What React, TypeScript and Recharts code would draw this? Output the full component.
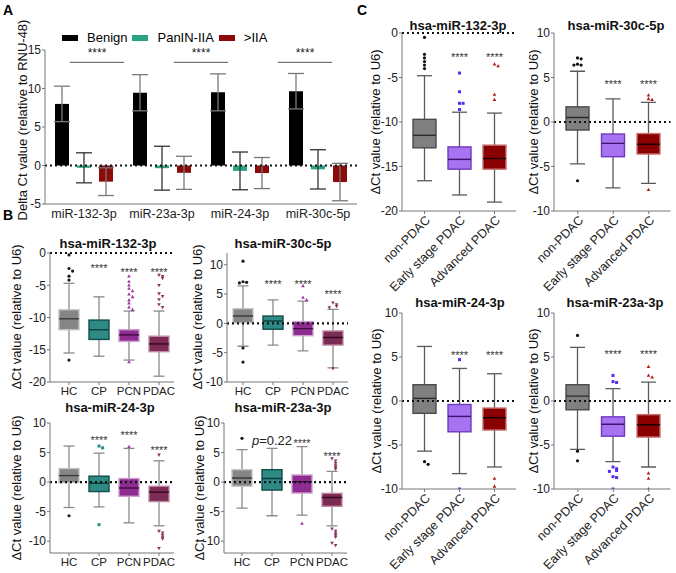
import React from "react";
import { Bar, ComposedChart, ErrorBar, ReferenceLine, XAxis, YAxis } from "recharts";

const FONT = "'Liberation Sans', Arial, Helvetica, sans-serif";
const W = 676;
const H = 573;

// ---------- panel A: bar chart, mean ± SD ----------
const aGenes = ["miR-132-3p", "miR-23a-3p", "miR-24-3p", "miR-30c-5p"];
const aGroups = ["Benign", "PanIN-IIA", ">IIA"];
const aColors = ["#000000", "#2aa384", "#8b0a0a"];
const aErrColors = ["#7a7a7a", "#333333", "#777777"];
const aBenign = [8.0, 9.45, 9.5, 9.65];
const aBenignErr = [2.3, 2.35, 2.4, 2.3];
const aPanin = [-0.3, -0.35, -0.7, -0.5];
const aPaninErr = [1.95, 2.85, 2.45, 2.55];
const aLate = [-2.1, -0.95, -0.98, -2.15];
const aLateErr = [1.8, 2.15, 2.02, 2.43];
const aSig = ["****", "****", "****", "****"];
const aSigLineY = 13.4;

// ---------- panel B: box plots HC / CP / PCN / PDAC ----------
const bCats = ["HC", "CP", "PCN", "PDAC"];
// [min, q1, median, q3, max]
const b132Stats = [
  [-15.5, -11.9, -10.2, -8.8, -4.7],
  [-16.0, -13.4, -11.9, -10.4, -6.8],
  [-16.6, -13.7, -12.7, -11.9, -9.0],
  [-19.1, -15.3, -14.1, -12.9, -9.0],
];
const b132Out = [
  [-0.3, -2.4, -2.8, -3.6, -4.2, -16.6],
  [],
  [-3.6, -4.4, -5.0, -5.5, -5.9, -6.4, -6.8, -7.3, -7.8, -8.4, -8.8, -16.9],
  [-3.4, -3.6, -3.9, -5.0, -6.3, -6.7, -7.2, -8.0, -8.4],
];
const b132Sig = ["", "****", "****", "****"];
const b132SigY = [0, -1.9, -2.6, -2.6];

const b30cStats = [
  [-3.9, 0.1, 1.25, 2.5, 6.4],
  [-3.7, -1.0, 0.4, 1.25, 4.0],
  [-4.7, -2.1, -0.9, 0.3, 3.8],
  [-7.6, -3.7, -2.4, -1.3, 2.4],
];
const b30cOut = [
  [10.6, 7.1, 7.0, 6.9, -4.2, -6.6],
  [],
  [6.4, 4.4, 4.0],
  [3.5, 3.2, 2.9, 2.7, -7.7],
];
const b30cSig = ["", "****", "****", "****"];
const b30cSigY = [0, 7.2, 7.2, 5.4];

const b24Stats = [
  [-4.3, -0.1, 1.1, 2.3, 6.1],
  [-4.2, -1.6, -0.2, 1.0, 4.9],
  [-6.9, -2.4, -1.0, 0.6, 5.7],
  [-7.4, -3.3, -1.7, -0.7, 3.6],
];
const b24Out = [
  [-5.7],
  [6.1, 5.8, -7.2],
  [6.0],
  [4.6, -8.3, -8.6, -9.0, -9.4, -9.6, -11.2],
];
const b24Sig = ["", "****", "****", "****"];
const b24SigY = [0, 7.5, 8.3, 5.9];

const b23aStats = [
  [-4.4, -0.7, 0.7, 2.1, 5.5],
  [-5.7, -1.35, 0.6, 2.1, 5.7],
  [-5.6, -1.85, 0.05, 1.2, 6.0],
  [-7.4, -4.1, -2.6, -1.9, 1.8],
];
const b23aOut = [
  [7.4],
  [],
  [-7.0],
  [4.0, 3.6, 3.2, 2.8, 2.5, 2.2, -7.9, -8.3, -8.7, -9.0, -9.3, -10.3, -10.7],
];
const b23aSig = ["", "p=0.22", "****", "****"];
const b23aSigY = [0, 7.0, 7.0, 4.9];

// ---------- panel C: box plots by stage ----------
const cCats = ["non-PDAC", "Early stage PDAC", "Advanced PDAC"];
const c132Stats = [
  [-16.6, -12.9, -11.5, -9.7, -4.8],
  [-18.2, -15.3, -14.2, -12.8, -8.9],
  [-19.0, -15.3, -14.1, -12.6, -9.0],
];
const c132Out = [
  [-0.5, -2.4, -2.8, -3.2, -3.6, -4.0],
  [-4.5, -6.6, -7.9, -7.9, -8.6],
  [-3.5, -3.7, -6.9, -7.5],
];
const c132Sig = ["", "****", "****"];
const c132SigY = [0, -2.4, -2.4];

const c30cStats = [
  [-4.7, -0.9, 0.5, 1.7, 5.7],
  [-7.4, -3.9, -2.4, -1.35, 2.6],
  [-6.9, -3.6, -2.5, -1.3, 2.2],
];
const c30cOut = [
  [7.2, 7.1, 6.5, 6.4, 6.4, -6.6],
  [],
  [3.0, 2.6, 2.5, -7.6],
];
const c30cSig = ["", "****", "****"];
const c30cSigY = [0, 4.5, 4.5];

const c24Stats = [
  [-5.7, -1.4, 0.3, 1.85, 6.2],
  [-8.25, -3.5, -1.75, -0.4, 3.7],
  [-7.5, -3.3, -1.9, -0.8, 3.1],
];
const c24Out = [
  [-6.9, -7.2],
  [4.7, -10.0],
  [-8.8, -9.7],
];
const c24Sig = ["", "****", "****"];
const c24SigY = [0, 5.5, 5.5];

const c23aStats = [
  [-5.5, -1.0, 0.55, 1.85, 6.1],
  [-6.9, -4.0, -2.65, -1.8, 1.4],
  [-7.5, -4.1, -2.7, -1.55, 2.15],
];
const c23aOut = [
  [7.45, -5.7, -6.8],
  [2.9, 2.2, 2.1, -7.5, -7.7, -7.9, -8.0, -8.6, -8.7, -10.0],
  [3.9, 2.9, 2.7, -8.2, -8.8, -10.0],
];
const c23aSig = ["", "****", "****"];
const c23aSigY = [0, 5.6, 5.6];

type BoxStyle = { fill: string; stroke: string; median: string; whisker: string; dot: string; marker: string };

const bStyles: BoxStyle[] = [
  { fill: "#858585", stroke: "#c4c4c4", median: "#3d3d3d", whisker: "#8a8a8a", dot: "#1a1a1a", marker: "circle" },
  { fill: "#2e8a85", stroke: "#114d4a", median: "#0f3f3c", whisker: "#8a8a8a", dot: "#2e8a85", marker: "square" },
  { fill: "#8e2d90", stroke: "#cf9bd0", median: "#3e0c40", whisker: "#8a8a8a", dot: "#9a3a9c", marker: "triUp" },
  { fill: "#7b2c55", stroke: "#c08aa5", median: "#35091e", whisker: "#8a8a8a", dot: "#8c3363", marker: "triDown" },
];
const cStyles: BoxStyle[] = [
  { fill: "#808080", stroke: "#4a4a4a", median: "#2a2a2a", whisker: "#5a5a5a", dot: "#111111", marker: "circle" },
  { fill: "#a873f0", stroke: "#7038c0", median: "#3a1570", whisker: "#5a5a5a", dot: "#5a2cf2", marker: "square" },
  { fill: "#8a0000", stroke: "#c87070", median: "#1a0000", whisker: "#5a5a5a", dot: "#b01a1a", marker: "triUp" },
];

function Marker({ kind, x, y, color }: { kind: string; x: number; y: number; color: string }) {
  if (kind === "square") return <rect x={x - 1.5} y={y - 1.5} width={3} height={3} fill={color} />;
  if (kind === "triUp")
    return <polygon points={`${x},${y - 2} ${x + 1.8},${y + 1.3} ${x - 1.8},${y + 1.3}`} fill={color} />;
  if (kind === "triDown")
    return <polygon points={`${x},${y + 2} ${x + 1.8},${y - 1.3} ${x - 1.8},${y - 1.3}`} fill={color} />;
  return <circle cx={x} cy={y} r={1.6} fill={color} />;
}

// the bar spans [min, max]; everything else is placed on the same linear scale
function makeBoxShape(styles: BoxStyle[], capW: number) {
  return (p: any) => {
    const { x, y, width, height, payload, index } = p;
    const st = styles[index];
    const [mn, q1, md, q3, mx] = payload.stats;
    const yA = Math.min(y, y + height);
    const yB = Math.max(y, y + height);
    const k = mx === mn ? 0 : (yB - yA) / (mx - mn);
    const py = (v: number) => yA + (mx - v) * k;
    const cx = x + width / 2;
    const seen: number[] = [];
    const isP = typeof payload.sig === "string" && payload.sig.startsWith("p");
    return (
      <g>
        <line x1={cx} x2={cx} y1={py(mx)} y2={py(mn)} stroke={st.whisker} strokeWidth={1.3} />
        <line x1={cx - capW / 2} x2={cx + capW / 2} y1={py(mx)} y2={py(mx)} stroke={st.whisker} strokeWidth={1.3} />
        <line x1={cx - capW / 2} x2={cx + capW / 2} y1={py(mn)} y2={py(mn)} stroke={st.whisker} strokeWidth={1.3} />
        <rect x={x} y={py(q3)} width={width} height={py(q1) - py(q3)} fill={st.fill} stroke={st.stroke} strokeWidth={1.4} />
        <line x1={x} x2={x + width} y1={py(md)} y2={py(md)} stroke={st.median} strokeWidth={1.4} />
        {payload.out.map((v: number, j: number) => {
          const yy = py(v);
          const n = seen.filter((s) => Math.abs(s - yy) < 3.2).length;
          seen.push(yy);
          const dx = n === 0 ? 0 : (n % 2 ? 1 : -1) * Math.ceil(n / 2) * 3.6;
          return <Marker key={j} kind={st.marker} x={cx + dx} y={yy} color={st.dot} />;
        })}
        {payload.sig ? (
          isP ? (
            <text x={cx} y={py(payload.sigY) + 4.5} textAnchor="middle" fontSize={13} fontFamily={FONT} fill="#222">
              <tspan fontStyle="italic">p</tspan>=0.22
            </text>
          ) : (
            <text x={cx} y={py(payload.sigY) + 6.4} textAnchor="middle" fontSize={11} fontFamily={FONT} fill="#333">
              {payload.sig}
            </text>
          )
        ) : null}
      </g>
    );
  };
}

function RotTick({ x, y, payload }: any) {
  return (
    <text
      x={x}
      y={y}
      dx={1}
      dy={8}
      transform={`rotate(-45 ${x} ${y})`}
      textAnchor="end"
      fontSize={12.5}
      fontFamily={FONT}
      fill="#222"
    >
      {payload.value}
    </text>
  );
}

type Layout = {
  axisX: number;
  top: number;
  bottom: number;
  padL: number;
  padR: number;
  band: number;
  boxW: number;
  capW: number;
  domain: [number, number];
  ticks: number[];
  rotate?: boolean;
};

function BoxChart({
  cats,
  stats,
  outs,
  sigs,
  sigYs,
  styles,
  lay,
}: {
  cats: string[];
  stats: number[][];
  outs: number[][];
  sigs: string[];
  sigYs: number[];
  styles: BoxStyle[];
  lay: Layout;
}) {
  const rows = cats.map((c, i) => ({
    cat: c,
    range: [stats[i][0], stats[i][4]],
    stats: stats[i],
    out: outs[i],
    sig: sigs[i],
    sigY: sigYs[i],
  }));
  const right = lay.axisX + lay.padL + lay.band * cats.length + lay.padR;
  const yW = 30;
  const xH = Math.min(30, H - lay.bottom);
  return (
    <div style={{ position: "absolute", left: 0, top: 0 }}>
      <ComposedChart
        width={W}
        height={H}
        data={rows}
        margin={{ top: lay.top, left: lay.axisX - yW, right: W - right, bottom: H - lay.bottom - xH }}
      >
        <XAxis
          dataKey="cat"
          height={xH}
          interval={0}
          padding={{ left: lay.padL, right: lay.padR }}
          axisLine={{ stroke: "#777" }}
          tickLine={{ stroke: "#777" }}
          tickSize={3}
          tickMargin={2}
          tick={lay.rotate ? <RotTick /> : { fontSize: 11.5, fill: "#222", fontFamily: FONT }}
        />
        <YAxis
          type="number"
          width={yW}
          domain={lay.domain}
          ticks={lay.ticks}
          allowDataOverflow
          interval={0}
          axisLine={{ stroke: "#777" }}
          tickLine={{ stroke: "#777" }}
          tickSize={3}
          tickMargin={1}
          tick={{ fontSize: 12, fill: "#222", fontFamily: FONT }}
        />
        <Bar dataKey="range" barSize={lay.boxW} isAnimationActive={false} shape={makeBoxShape(styles, lay.capW)} />
        <ReferenceLine y={0} stroke="#111" strokeWidth={2.2} strokeDasharray="2 3" />
      </ComposedChart>
    </div>
  );
}

function PanelA() {
  const rows = aGenes.map((g, i) => ({
    gene: g,
    benign: aBenign[i],
    benignErr: aBenignErr[i],
    panin: aPanin[i],
    paninErr: aPaninErr[i],
    late: aLate[i],
    lateErr: aLateErr[i],
  }));
  const keys = ["benign", "panin", "late"];
  return (
    <div style={{ position: "absolute", left: 0, top: 0 }}>
      <ComposedChart
        width={W}
        height={H}
        data={rows}
        barGap={8}
        margin={{ top: 50, left: 0, right: W - 357, bottom: H - 204 - 22 }}
      >
        <XAxis
          dataKey="gene"
          height={22}
          interval={0}
          tickLine={false}
          tickSize={4}
          tickMargin={1}
          axisLine={{ stroke: "#777" }}
          tick={{ fontSize: 12.5, fill: "#222", fontFamily: FONT }}
        />
        <XAxis xAxisId="sig" type="number" domain={[0, 4]} hide />
        <YAxis
          type="number"
          width={45}
          domain={[-5, 15]}
          ticks={[-5, 0, 5, 10, 15]}
          interval={0}
          axisLine={{ stroke: "#777" }}
          tickLine={{ stroke: "#777" }}
          tickSize={3}
          tickMargin={1}
          tick={{ fontSize: 12, fill: "#222", fontFamily: FONT }}
        />
        {keys.map((k, i) => (
          <Bar key={k} dataKey={k} fill={aColors[i]} barSize={14} isAnimationActive={false}>
            <ErrorBar dataKey={k + "Err"} width={8} stroke={aErrColors[i]} strokeWidth={1.3} />
          </Bar>
        ))}
        <ReferenceLine y={0} stroke="#111" strokeWidth={2.2} strokeDasharray="2 3" />
        {aGenes.map((g, i) => (
          <ReferenceLine
            key={g}
            xAxisId="sig"
            segment={[
              { x: i + 0.24, y: aSigLineY },
              { x: i + 0.76, y: aSigLineY },
            ]}
            stroke="#555"
            strokeWidth={1}
            label={{ value: aSig[i], position: "top", offset: 5, fontSize: 12, fill: "#222", fontFamily: FONT }}
          />
        ))}
      </ComposedChart>
    </div>
  );
}

const bLay = (axisX: number, top: number, bottom: number, padL: number, domain: [number, number]): Layout => ({
  axisX,
  top,
  bottom,
  padL,
  padR: 0,
  band: 30,
  boxW: 20,
  capW: 11,
  domain,
  ticks: domain[0] === -20 ? [-20, -15, -10, -5, 0] : [-10, -5, 0, 5, 10],
});

const cLay = (axisX: number, top: number, bottom: number, padL: number, band: number, domain: [number, number]): Layout => ({
  axisX,
  top,
  bottom,
  padL,
  padR: 4,
  band,
  boxW: 23,
  capW: 15,
  domain,
  ticks: domain[0] === -20 ? [-20, -15, -10, -5, 0] : [-10, -5, 0, 5, 10],
  rotate: true,
});

function Title({ text, x, y }: { text: string; x: number; y: number }) {
  return (
    <div
      style={{
        position: "absolute",
        left: x,
        top: y,
        transform: "translate(-50%, -50%)",
        fontWeight: "bold",
        fontSize: 13,
        whiteSpace: "nowrap",
        color: "#111",
      }}
    >
      {text}
    </div>
  );
}

function YLabel({ text, x, y }: { text: string; x: number; y: number }) {
  return (
    <div
      style={{
        position: "absolute",
        left: x,
        top: y,
        transform: "translate(-50%, -50%) rotate(-90deg)",
        fontSize: 13,
        whiteSpace: "nowrap",
        color: "#111",
      }}
    >
      {text}
    </div>
  );
}

function Letter({ text, x, y }: { text: string; x: number; y: number }) {
  return (
    <div style={{ position: "absolute", left: x, top: y, fontWeight: "bold", fontSize: 14, lineHeight: 1 }}>{text}</div>
  );
}

export default function App() {
  const dLabel = "ΔCt value (relative to U6)";
  return (
    <div
      style={{
        position: "absolute",
        left: 0,
        top: 0,
        width: W,
        height: H,
        background: "#fff",
        fontFamily: FONT,
        overflow: "hidden",
      }}
    >
      <PanelA />
      <div style={{ position: "absolute", left: 62, top: 30, display: "flex", alignItems: "center", fontSize: 13 }}>
        {aGroups.map((g, i) => (
          <div key={g} style={{ display: "flex", alignItems: "center", marginRight: 5 }}>
            <span style={{ display: "inline-block", width: 16, height: 6, background: aColors[i], marginRight: 9 }} />
            <span>{g}</span>
          </div>
        ))}
      </div>
      <YLabel text="Delta Ct value (relative to RNU-48)" x={22} y={120} />

      <BoxChart cats={bCats} stats={b132Stats} outs={b132Out} sigs={b132Sig} sigYs={b132SigY} styles={bStyles} lay={bLay(50, 253, 382, 4, [-20, 0])} />
      <BoxChart cats={bCats} stats={b30cStats} outs={b30cOut} sigs={b30cSig} sigYs={b30cSigY} styles={bStyles} lay={bLay(227, 253, 382, 1, [-10, 12])} />
      <BoxChart cats={bCats} stats={b24Stats} outs={b24Out} sigs={b24Sig} sigYs={b24SigY} styles={bStyles} lay={bLay(50, 423, 553, 4, [-12, 10])} />
      <BoxChart cats={bCats} stats={b23aStats} outs={b23aOut} sigs={b23aSig} sigYs={b23aSigY} styles={bStyles} lay={bLay(224, 423, 553, 3, [-12, 10])} />

      <BoxChart cats={cCats} stats={c132Stats} outs={c132Out} sigs={c132Sig} sigYs={c132SigY} styles={cStyles} lay={cLay(402, 33, 211, 5, 35, [-20, 0])} />
      <BoxChart cats={cCats} stats={c30cStats} outs={c30cOut} sigs={c30cSig} sigYs={c30cSigY} styles={cStyles} lay={cLay(554, 33, 211, 6, 35.5, [-10, 10])} />
      <BoxChart cats={cCats} stats={c24Stats} outs={c24Out} sigs={c24Sig} sigYs={c24SigY} styles={cStyles} lay={cLay(402, 313, 489, 5, 35, [-10, 10])} />
      <BoxChart cats={cCats} stats={c23aStats} outs={c23aOut} sigs={c23aSig} sigYs={c23aSigY} styles={cStyles} lay={cLay(554, 313, 489, 6, 35.5, [-10, 10])} />

      <Title text="hsa-miR-132-3p" x={108} y={243} />
      <Title text="hsa-miR-30c-5p" x={283} y={243} />
      <Title text="hsa-miR-24-3p" x={110} y={407} />
      <Title text="hsa-miR-23a-3p" x={283} y={407} />
      <Title text="hsa-miR-132-3p" x={458} y={25} />
      <Title text="hsa-miR-30c-5p" x={616} y={25} />
      <Title text="hsa-miR-24-3p" x={460} y={302} />
      <Title text="hsa-miR-23a-3p" x={615} y={302} />

      <YLabel text={dLabel} x={16} y={317} />
      <YLabel text={dLabel} x={197} y={317} />
      <YLabel text={dLabel} x={16} y={488} />
      <YLabel text={dLabel} x={199} y={488} />
      <YLabel text={dLabel} x={375} y={122} />
      <YLabel text={dLabel} x={533} y={122} />
      <YLabel text={dLabel} x={376} y={401} />
      <YLabel text={dLabel} x={533} y={401} />

      <Letter text="A" x={3} y={3} />
      <Letter text="B" x={3} y={208} />
      <Letter text="C" x={357} y={3} />
    </div>
  );
}
